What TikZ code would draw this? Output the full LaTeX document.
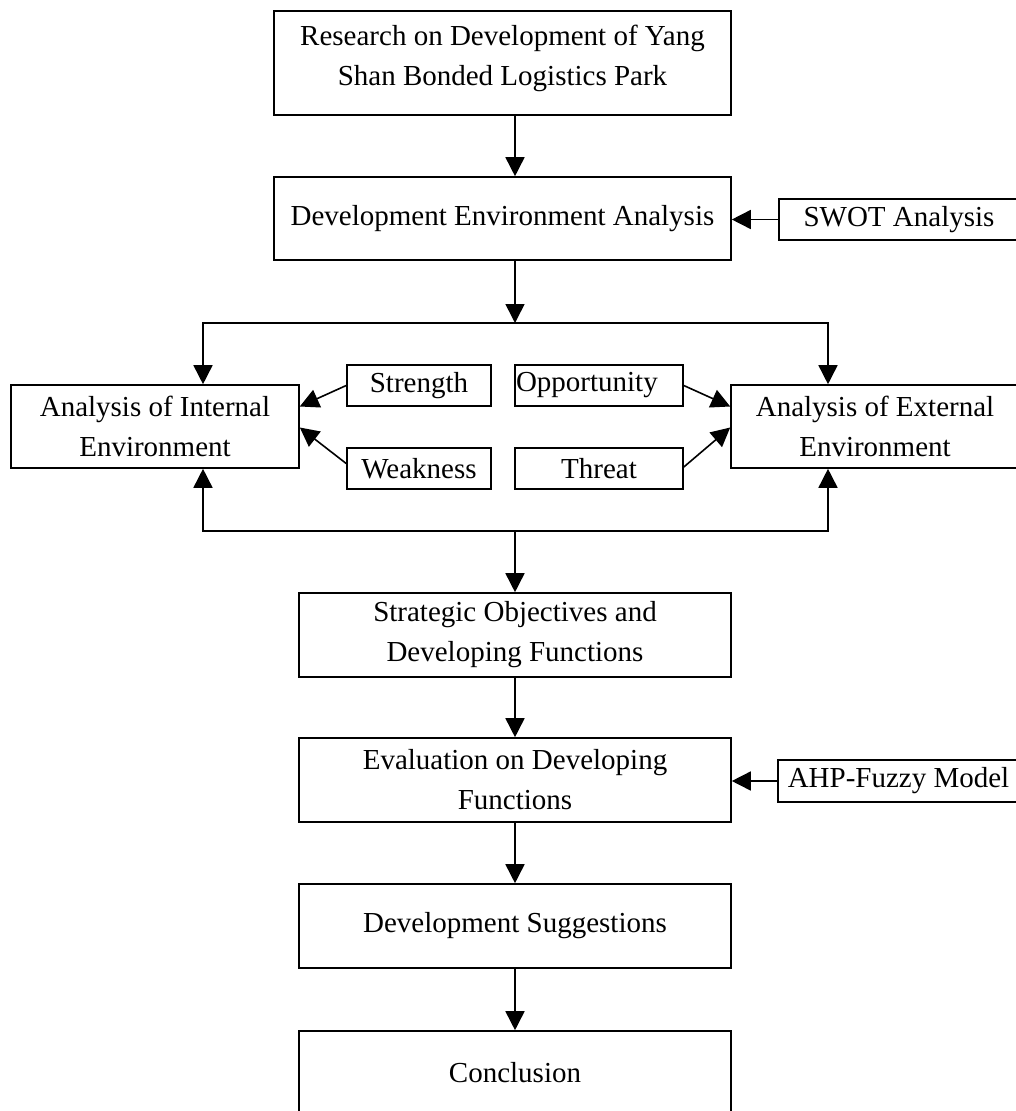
\documentclass[tikz,border=0pt]{standalone}
\usepackage{fontspec}
\setmainfont{Liberation Serif}
\usetikzlibrary{arrows.meta,calc}
\begin{document}
\begin{tikzpicture}[x=1pt,y=-1pt,
  every node/.style={font=\fontsize{29}{40}\selectfont},
  box/.style={draw, line width=1.6pt, rectangle, inner sep=0pt, align=center},
  arr/.style={line width=1.6pt, -{Triangle[length=19pt,width=19pt]}},
  darr/.style={line width=1.6pt, {Triangle[length=19pt,width=19pt]}-{Triangle[length=19pt,width=19pt]}}]
\useasboundingbox (0,0) rectangle (1015,1111);
\fill[white] (0,0) rectangle (1015,1111);

\node[box, minimum width=457pt, minimum height=104pt, text depth=16pt] (res) at (502.5,63) {Research on Development of Yang\\Shan Bonded Logistics Park};
\node[box, minimum width=457pt, minimum height=83pt] (dea) at (502.5,218.5) {Development Environment Analysis};
\node[box, minimum width=240pt, minimum height=41pt] (swot) at (899,219.5) {SWOT Analysis};

\node[box, minimum width=288pt, minimum height=83pt] (int) at (155,426.5) {Analysis of Internal\\Environment};
\node[box, minimum width=288pt, minimum height=83pt] (ext) at (875,426.5) {Analysis of External\\Environment};
\node[box, minimum width=144pt, minimum height=41pt] (str) at (419,385.5) {Strength};
\node[box, minimum width=144pt, minimum height=41pt] (wk) at (419,468.5) {Weakness};
\node[box, text width=166pt, align=left, inner sep=1pt, minimum height=41pt] (opp) at (599,385.5) {Opportunity};
\node[box, minimum width=168pt, minimum height=41pt] (thr) at (599,468.5) {Threat};

\node[box, minimum width=432pt, minimum height=84pt] (strat) at (515,635) {Strategic Objectives and\\Developing Functions};
\node[box, minimum width=432pt, minimum height=84pt] (eval) at (515,780) {Evaluation on Developing\\Functions};
\node[box, minimum width=241pt, minimum height=42pt] (ahp) at (898.5,781) {AHP-Fuzzy Model};
\node[box, minimum width=432pt, minimum height=84pt] (sug) at (515,926) {Development Suggestions};
\node[box, minimum width=432pt, minimum height=84pt] (con) at (515,1073) {Conclusion};

\coordinate (jt) at (515,323);
\coordinate (jl) at (203,323);
\coordinate (jr) at (828,323);
\coordinate (bl) at (203,531);
\coordinate (br) at (828,531);
\coordinate (jb) at (515,531);

\draw[arr] (res.south -| jt) -- (dea.north -| jt);
\draw[arr] (swot.west) -- (dea.east |- swot.west);
\draw[arr] (dea.south -| jt) -- (jt);
\draw[darr] (int.north -| jl) -- (jl) -- (jr) -- (ext.north -| jr);
\draw[arr] (str.west) -- ([yshift=20pt]int.east);
\draw[arr] ([yshift=5pt]wk.west) -- ([yshift=-1pt]int.east);
\draw[arr] (opp.east) -- ([yshift=20pt]ext.west);
\draw[arr] ([yshift=1.5pt]thr.east) -- ([yshift=-1pt]ext.west);
\draw[darr] (int.south -| bl) -- (bl) -- (br) -- (ext.south -| br);
\draw[arr] (jb) -- (strat.north);
\draw[arr] (strat.south) -- (eval.north);
\draw[arr] (ahp.west) -- (eval.east |- ahp.west);
\draw[arr] (eval.south) -- (sug.north);
\draw[arr] (sug.south) -- (con.north);
\end{tikzpicture}
\end{document}
